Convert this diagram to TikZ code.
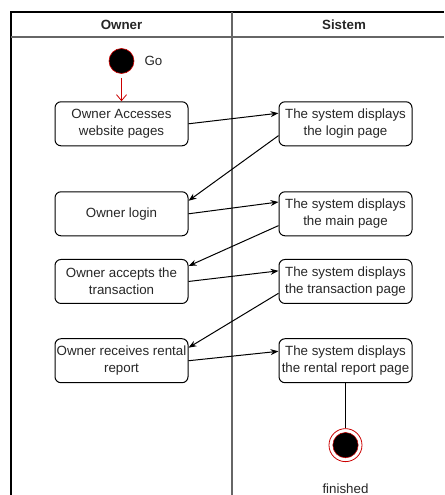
\documentclass[tikz,border=0pt]{standalone}
\usepackage{fontspec}
\setmainfont{Liberation Sans}
\usetikzlibrary{positioning}
\usetikzlibrary{arrows.meta}
\tikzset{
	action/.style={draw, rectangle, rounded corners=4.5pt, line width=0.75pt, minimum width=99.75pt, minimum height=33pt, inner xsep=0.8pt, align=center, text=black!85, font=\fontsize{10}{12.4}\selectfont},
	startdot/.style={draw=red!80!black, circle, fill=black, inner sep=0pt, minimum size=18.75pt, line width=0.5pt},
	% end state: white ring with black dot inside
	enddot/.style={draw=red!80!black, circle, fill=white, inner sep=0pt, minimum size=24.75pt, line width=0.6pt},
	innerdot/.style={draw=red!80!black, circle, fill=black, inner sep=0pt, minimum size=19pt, line width=0.4pt},
	tag/.style={inner sep=0pt, text=black!85, font=\fontsize{10}{12}\selectfont},
	lanehead/.style={text=black!85, font=\bfseries\fontsize{10}{12}\selectfont},
	lane/.style={line width=0.8pt},
}

\begin{document}
\begin{tikzpicture}[x=0.75pt, y=-0.75pt]
		\useasboundingbox (0,0) rectangle (444,495);
		
		% swimlanes
		\draw [lane] (11,495) -- (11,12) -- (444,12);
		\draw [lane, black!60] (11,37) -- (444,37);
		\draw [lane, black!60] (232,12) -- (232,495);
		\node (ownhead) [lanehead] at (121.5,24.5) {Owner};
		\node (syshead) [lanehead] at (344,24.5) {Sistem};
		
		\node (own1) [action] at (121.5,123.8) {Owner Accesses\\website pages};
		\node (start) [startdot, above=20.6pt of own1] {};
		\node (go) [tag, right=7.5pt of start] {Go};
		
		\node (own2) [action, below=33.75pt of own1] {Owner login};
		\node (own3) [action, below=17pt of own2] {Owner accepts the\\transaction};
		\node (own4) [action, below=25.7pt of own3] {Owner receives rental\\report};
		
		\node (sys1) [action, right=67.5pt of own1] {The system displays\\the login page};
		\node (sys2) [action, right=67.5pt of own2] {The system displays\\the main page};
		\node (sys3) [action, right=67.5pt of own3] {The system displays\\the transaction page};
		\node (sys4) [action, right=67.5pt of own4] {The system displays\\the rental report page};
		
		\node (stop) [enddot, below=33.75pt of sys4] {};
		\node (stopdot) [innerdot] at (stop) {};
		\node (fin) [tag, below=16pt of stop] {finished};
		
		\draw [red!80!black, line width=0.6pt, shorten <=3pt, -{Straight Barb[length=4.5pt, width=7.5pt]}] (start) -- (own1);
		
		\begin{scope}[line width=0.75pt, black, ->, >={Stealth[length=6pt, width=4.5pt]}]
			\draw (own1.east) -- (sys1.171);
			\draw (sys1.190) -- (own2.11);
			\draw (own2.east) -- (sys2.170);
			\draw (sys2.190) -- (own3.13);
			\draw (own3.east) -- (sys3.171);
			\draw (sys3.190) -- (own4.11);
			\draw (own4.east) -- (sys4.172);
		\end{scope}
		\draw [line width=0.75pt] (sys4) -- (stop);
	\end{tikzpicture}
\end{document}
